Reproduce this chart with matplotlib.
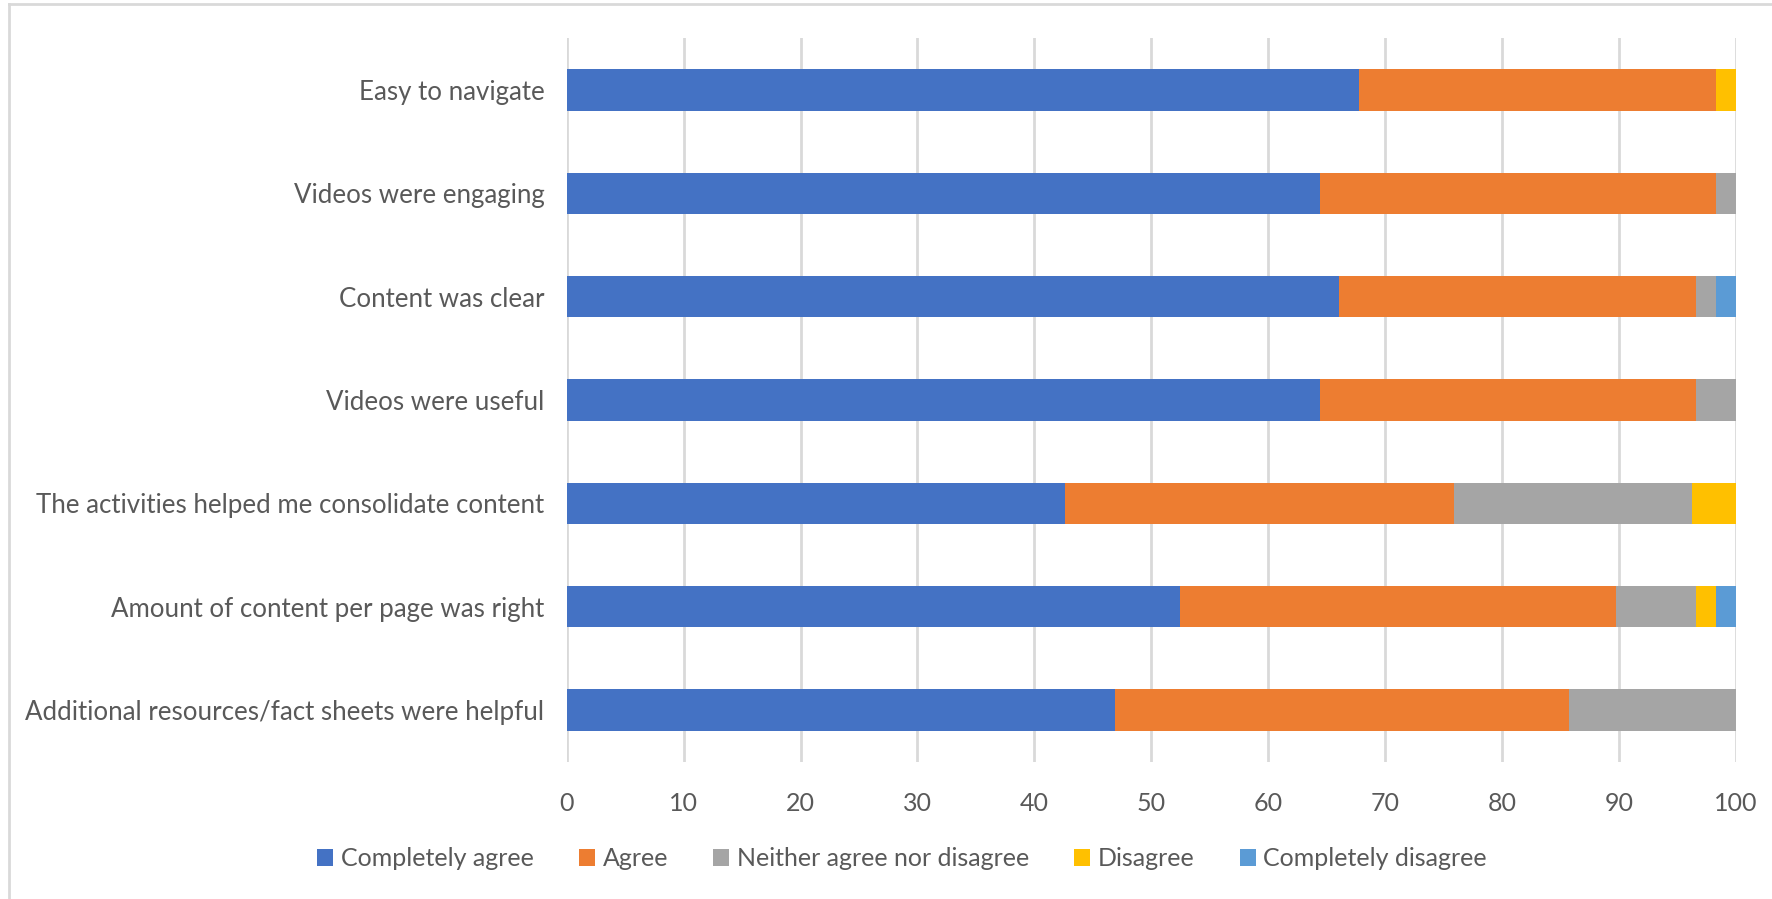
import numpy as np
import matplotlib
matplotlib.use("Agg")
import matplotlib.pyplot as plt
from matplotlib.patches import Patch

plt.rcParams["font.family"] = ["Lato", "DejaVu Sans"]

# survey items, top to bottom
items = ["Easy to navigate",
         "Videos were engaging",
         "Content was clear",
         "Videos were useful",
         "The activities helped me consolidate content",
         "Amount of content per page was right",
         "Additional resources/fact sheets were helpful"]

# percentages per response level
completely_agree = [67.8, 64.4, 66.1, 64.4, 42.6, 52.5, 46.9]
agree = [30.5, 33.9, 30.5, 32.2, 33.3, 37.3, 38.8]
neither = [0.0, 1.7, 1.7, 3.4, 20.4, 6.8, 14.3]
disagree = [1.7, 0.0, 0.0, 0.0, 3.7, 1.7, 0.0]
completely_disagree = [0.0, 0.0, 1.7, 0.0, 0.0, 1.7, 0.0]

series = [("Completely agree", completely_agree, "#4472C4"),
          ("Agree", agree, "#ED7D31"),
          ("Neither agree nor disagree", neither, "#A5A5A5"),
          ("Disagree", disagree, "#FFC000"),
          ("Completely disagree", completely_disagree, "#5B9BD5")]

TXT = "#595959"
GRID = "#D9D9D9"

fig = plt.figure(figsize=(17.72, 8.99), dpi=100)
ax = fig.add_axes([566.7/1772, 1-761.7/899, (1735.7-566.7)/1772, (761.7-38.3)/899])

y = np.arange(len(items))
left = np.zeros(len(items))
for name, vals, col in series:
    v = np.array(vals)
    ax.barh(y, v, left=left, height=0.4, color=col, label=name, zorder=3)
    left += v

ax.set_ylim(len(items)-0.5, -0.5)
ax.set_xlim(0, 100)
ax.set_xticks(np.arange(0, 101, 10))
ax.set_yticks(y)
ax.set_yticklabels(items)
ax.tick_params(axis="both", length=0, labelsize=18, colors=TXT)
ax.tick_params(axis="y", pad=16, labelsize=18.6)
ax.tick_params(axis="x", pad=22)
ax.grid(axis="x", color=GRID, linewidth=2, zorder=0)
for s in ax.spines.values():
    s.set_visible(False)

handles = [Patch(facecolor=c, label=n) for n, _, c in series]
leg = fig.legend(handles=handles, loc="center", bbox_to_anchor=(902/1772, 1-859/899),
                 ncol=5, frameon=False, fontsize=18, handlelength=0.65, handleheight=0.65,
                 handletextpad=0.3, columnspacing=1.8)
for t in leg.get_texts():
    t.set_color(TXT)

# chart border (left/top visible in the original)
fig.add_artist(plt.Line2D([9/1772, 9/1772], [0, 1-4/899], color="#D9D9D9", linewidth=2))
fig.add_artist(plt.Line2D([9/1772, 1], [1-4/899, 1-4/899], color="#D9D9D9", linewidth=2))

fig.savefig("out.png", dpi=100)
